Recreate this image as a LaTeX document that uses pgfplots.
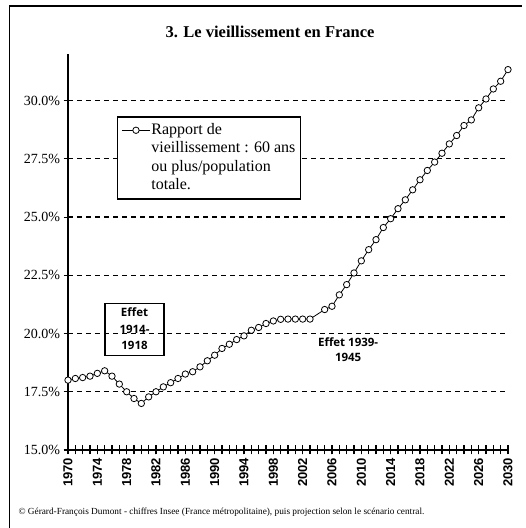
\documentclass[border=0pt]{standalone}
\usepackage{fontspec}
\setmainfont{Liberation Serif}
\setsansfont{Liberation Sans}
\newfontfamily\effetfont{Open Sans}
\usepackage{pgfplots}
\pgfplotsset{compat=1.18}
\pgfplotstableread{
year val
1970 18.00
1971 18.07
1972 18.11
1973 18.17
1974 18.29
1975 18.40
1976 18.17
1977 17.83
1978 17.50
1979 17.21
1980 17.00
1981 17.28
1982 17.50
1983 17.71
1984 17.89
1985 18.07
1986 18.26
1987 18.36
1988 18.57
1989 18.83
1990 19.07
1991 19.36
1992 19.54
1993 19.74
1994 19.90
1995 20.14
1996 20.26
1997 20.43
1998 20.54
1999 20.61
2000 20.62
2001 20.62
2002 20.62
2003 20.62
2005 21.03
2006 21.17
2007 21.66
2008 22.10
2009 22.60
2010 23.12
2011 23.60
2012 24.03
2013 24.55
2014 24.93
2015 25.36
2016 25.74
2017 26.17
2018 26.60
2019 27.00
2020 27.36
2021 27.74
2022 28.14
2023 28.50
2024 28.93
2025 29.17
2026 29.69
2027 30.07
2028 30.50
2029 30.83
2030 31.33
}\datatable
\usepackage{pgfplotstable}
\begin{document}
\begin{tikzpicture}[x=1pt,y=1pt]
\path[use as bounding box] (0,0) rectangle (526,528);
\draw[line width=1.6pt] (9.5,0) -- (9.5,522) -- (522,522);
\node[font=\bfseries\fontsize{16.5}{19}\selectfont] at (270,496) {3. Le vieillissement en France};
\begin{axis}[
  at={(68pt,78pt)}, anchor=south west,
  scale only axis, width=440pt, height=396pt,
  xmin=1970, xmax=2030, ymin=15, ymax=32,
  clip=false,
  axis x line*=bottom, axis y line*=left,
  axis line style={line width=1.6pt, black},
  xtick={1970,1974,...,2030},
  minor xtick={1971,...,2029},
  ytick={15,17.5,20,22.5,25,27.5,30},
  tick align=center,
  major tick length=9pt, minor tick length=9pt,
  every tick/.style={black, line width=1.1pt},
  xticklabel style={rotate=90, anchor=east, font=\sffamily\bfseries\fontsize{13}{13}\selectfont,
    /pgf/number format/1000 sep={}, /pgf/number format/assume math mode=true},
  yticklabel={\pgfmathprintnumber[fixed,fixed zerofill,precision=1]{\tick}\%},
  yticklabel style={font=\fontsize{14}{14}\selectfont, /pgf/number format/assume math mode=true},
  ymajorgrids,
  major grid style={black, line width=1.3pt, dash pattern=on 5pt off 4pt},
  legend style={at={(axis cs:1976.68,29.32)}, anchor=north west, draw=black, line width=1.2pt,
    font=\fontsize{16}{18}\selectfont, inner xsep=4pt, inner ysep=6pt, row sep=4pt,
    nodes={inner xsep=1pt, inner ysep=0pt, text height=11pt, text depth=3.5pt}},
  legend cell align=left,
  legend image code/.code={\draw[mark repeat=2,mark phase=2,line width=0.8pt] plot coordinates {(0pt,0pt) (14pt,0pt) (28pt,0pt)};},
]
\addplot[black, line width=0.8pt, mark=*, mark size=3.2pt, mark options={fill=white, draw=black, line width=0.8pt}] table[x=year, y=val] {\datatable};
\addlegendentry{Rapport de}
\addlegendimage{empty legend}
\addlegendentry{vieillissement : 60 ans}
\addlegendimage{empty legend}
\addlegendentry{ou plus/population}
\addlegendimage{empty legend}
\addlegendentry{totale.}
\node[draw, line width=1.2pt, align=center, font=\effetfont\bfseries\fontsize{11.5}{16.5}\selectfont,
  minimum width=59pt, minimum height=52pt, inner sep=2pt] at (axis cs:1979.07,20.19) {Effet\\1914-\\1918};
\node[align=center, font=\effetfont\bfseries\fontsize{11.5}{15}\selectfont] at (axis cs:2008.2,19.29) {Effet 1939-\\1945};
\end{axis}
\node[anchor=west, font=\fontsize{9.3}{10}\selectfont] at (15,16) {© Gérard-François Dumont - chiffres Insee (France métropolitaine), puis projection selon le scénario central.};
\end{tikzpicture}
\end{document}
